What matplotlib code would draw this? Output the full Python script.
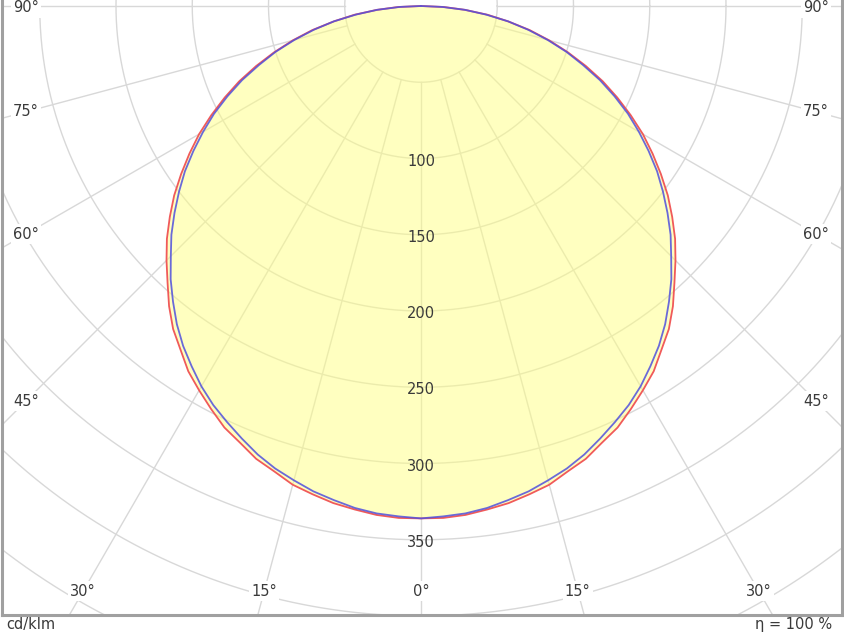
import numpy as np
import matplotlib
matplotlib.use('agg')
import matplotlib.pyplot as plt

# luminous intensity in cd/klm, gamma 0..90 deg in 2.5 deg steps (symmetric planes)
gamma_deg = [0, 2.5, 5, 7.5, 10, 12.5, 15, 17.5, 20, 22.5, 25, 27.5, 30, 32.5, 35, 37.5,
             40, 42.5, 45, 47.5, 50, 52.5, 55, 57.5, 60, 62.5, 65, 67.5, 70, 72.5, 75,
             77.5, 80, 82.5, 85, 87.5, 90]
c0_c180 = [336, 336, 335, 333, 331, 328, 325, 320, 316, 310, 305, 298, 291, 284, 275, 267,
           257, 246, 236, 226, 215, 204, 192, 180, 168, 155, 142, 129, 115, 101, 87,
           73, 58, 44, 29, 15, 0]
c90_c270 = [336, 335, 334, 332, 329, 326, 322, 318, 313, 307, 301, 295, 288, 280, 272, 263,
            253, 243, 232, 222, 211, 200, 189, 177, 165, 153, 140, 127, 113, 100, 86,
            72, 58, 43, 29, 14, 0]

ring_values = [50, 100, 150, 200, 250, 300, 350, 400, 450, 500, 550, 600]
ring_labels = [100, 150, 200, 250, 300, 350]
angle_labels = [0, 15, 30, 45, 60, 75, 90]
unit_text = "cd/klm"
eta_text = "η = 100 %"

W, H = 844, 633
PX = 1.525          # pixels per cd/klm
CX, CY = 421, 6     # pole position in pixels
BOX_L, BOX_R, BOX_B = 2, 842, 615

GRID = '#d8d8d8'
TEXT = '#3a3a3a'


def to_xy(gam, val):
    g = np.radians(gam)
    val = np.asarray(val, dtype=float)
    return val * np.sin(g), -val * np.cos(g)


def full_curve(values):
    # mirror the 0..90 half so the curve goes from -90 over 0 to +90
    g = np.array(gamma_deg, dtype=float)
    v = np.array(values, dtype=float)
    gg = np.concatenate([-g[::-1], g[1:]])
    vv = np.concatenate([v[::-1], v[1:]])
    return to_xy(gg, vv)


def main():
    fig = plt.figure(figsize=(W / 100, H / 100), dpi=100)
    ax = fig.add_axes([BOX_L / W, (H - BOX_B) / H, (BOX_R - BOX_L) / W, BOX_B / H])
    ax.set_xlim((BOX_L - CX) / PX, (BOX_R - CX) / PX)
    ax.set_ylim(-(BOX_B - CY) / PX, CY / PX)
    ax.set_xticks([])
    ax.set_yticks([])
    for side in ['left', 'right', 'bottom']:
        ax.spines[side].set_color('#a0a0a0')
        ax.spines[side].set_linewidth(2.2)
    ax.spines['top'].set_visible(False)

    # grid rings
    t = np.linspace(0, 2 * np.pi, 720)
    for r in ring_values:
        ax.plot(r * np.cos(t), r * np.sin(t), color=GRID, lw=1, zorder=1)

    # radial lines every 15 deg, starting at the first ring
    for a in range(-180, 181, 15):
        x0, y0 = to_xy(a, ring_values[0])
        x1, y1 = to_xy(a, 900)
        ax.plot([x0, x1], [y0, y1], color=GRID, lw=1, zorder=1)

    # fill and curves
    xr, yr = full_curve(c0_c180)
    xb, yb = full_curve(c90_c270)
    ax.fill(xr, yr, color='#ffff82', alpha=0.5, lw=0, zorder=2)
    ax.plot(xr, yr, color='#f05a5a', lw=1.3, zorder=3)
    ax.plot(xb, yb, color='#5050dd', lw=1.3, alpha=0.85, zorder=4)

    # value labels along the 0 deg line
    for r in ring_labels:
        ax.text(0, -r - 1.8, str(r), ha='center', va='center', fontsize=10.5,
                color=TEXT, zorder=5)

    # angle labels on an inner frame
    side_x = (CX - 26) / PX
    bottom_y = (591 - CY) / PX
    for a in angle_labels:
        for sgn in ([1] if a == 0 else [-1, 1]):
            g = np.radians(a)
            s, c = np.sin(g), np.cos(g)
            k = 1e9
            if s > 1e-9:
                k = min(k, side_x / s)
            if c > 1e-9:
                k = min(k, bottom_y / c)
            x, y = sgn * k * s, -k * c
            if a == 90:
                y = -(8 - CY) / PX
            ax.text(x, y, f"{a}°", ha='center', va='center', fontsize=10.5,
                    color=TEXT, zorder=6,
                    bbox=dict(boxstyle='square,pad=0.15', fc='white', ec='none'))

    fig.text(6 / W, 1 - 632 / H, unit_text, ha='left', va='bottom', fontsize=10.5, color=TEXT)
    fig.text(832 / W, 1 - 632 / H, eta_text, ha='right', va='bottom', fontsize=10.5, color=TEXT)

    fig.savefig('out.png', dpi=100)


if __name__ == "__main__":
    main()
